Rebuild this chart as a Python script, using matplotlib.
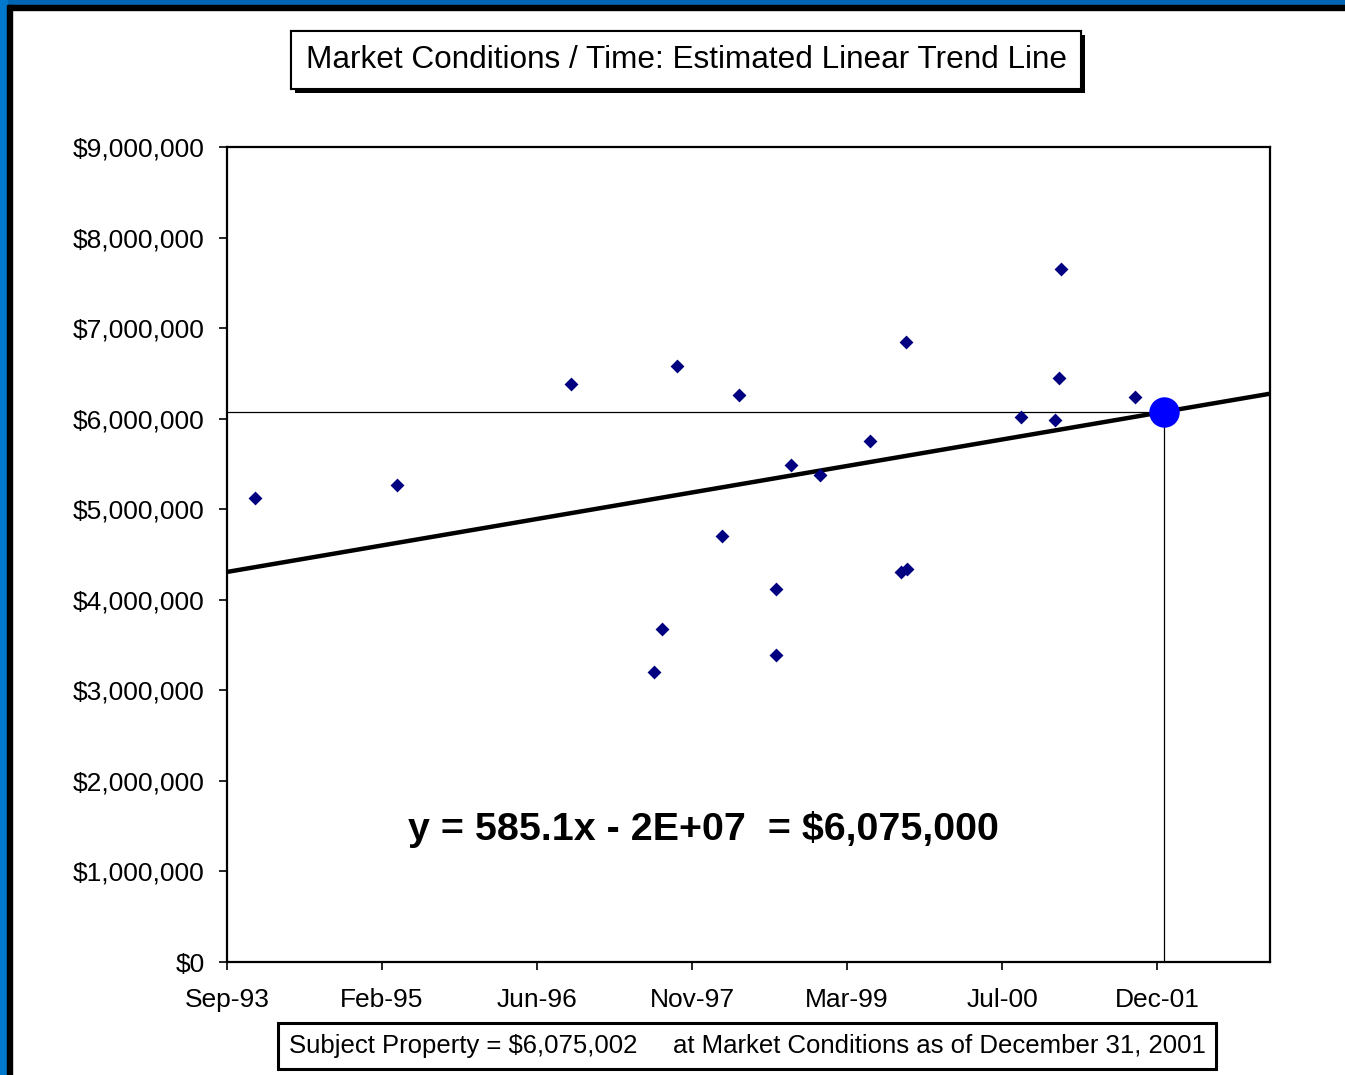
import matplotlib
matplotlib.use("Agg")
import matplotlib.pyplot as plt
import matplotlib.dates as mdates
import matplotlib.patheffects as pe
from matplotlib.patches import Rectangle
import numpy as np
import pandas as pd

plt.rcParams['font.family'] = ['Liberation Sans', 'DejaVu Sans']

# sale dates and prices
sale_dates = ["1993-12-22", "1995-03-26", "1996-10-07", "1997-09-14", "1997-07-02",
              "1997-07-28", "1998-02-06", "1998-04-02", "1998-07-31", "1998-07-31",
              "1998-09-17", "1998-12-20", "1999-05-30", "1999-09-07", "1999-09-26",
              "1999-09-23", "2000-09-28", "2001-01-16", "2001-01-29", "2001-02-04",
              "2001-10-01"]
sale_prices = [5124000, 5267000, 6383000, 6581000, 3202000,
               3677000, 4704000, 6261000, 4119000, 3390000,
               5488000, 5378000, 5753000, 4307000, 4340000,
               6847000, 6018000, 5985000, 6449000, 7653000,
               6239000]

subject_date = "2001-12-31"
subject_value = 6075002
trend_slope = 585.1  # $ per day

axis_start = "1993-09-23"
axis_end = "2002-12-09"
tick_step_days = 500
y_ticks = [0, 1e6, 2e6, 3e6, 4e6, 5e6, 6e6, 7e6, 8e6, 9e6]

x = mdates.date2num(pd.to_datetime(sale_dates))
xs = mdates.date2num(pd.Timestamp(subject_date))
x0 = mdates.date2num(pd.Timestamp(axis_start))
x1 = mdates.date2num(pd.Timestamp(axis_end))

fig = plt.figure(figsize=(13.45, 10.75), dpi=100)
ax = fig.add_axes([227 / 1345, 1 - 962 / 1075, (1270 - 227) / 1345, (962 - 147) / 1075])

# blue frame of the slide
W, H = 1345, 1075
fig.patches.append(Rectangle((0, 1 - 5 / H), 1, 5 / H, transform=fig.transFigure,
                             color="#0066b3", zorder=0))
fig.patches.append(Rectangle((0, 1 - 10 / H), 1, 5 / H, transform=fig.transFigure,
                             color="black", zorder=0))
fig.patches.append(Rectangle((0, 0), 7 / W, 1, transform=fig.transFigure,
                             color="#0078cc", zorder=0))
fig.patches.append(Rectangle((7 / W, 0), 5 / W, 1 - 5 / H, transform=fig.transFigure,
                             color="black", zorder=0))

# trend line
tx = np.array([x0, x1])
ty = subject_value + trend_slope * (tx - xs)
ax.plot(tx, ty, color="black", lw=3.2, zorder=3, solid_capstyle="butt")

# subject reference lines
ax.plot([x0, xs], [subject_value, subject_value], color="black", lw=0.9, zorder=2)
ax.plot([xs, xs], [0, subject_value], color="black", lw=0.9, zorder=2)

ax.scatter(x, sale_prices, marker="D", s=50, color="#000080", zorder=4, linewidths=0)
ax.scatter([xs], [subject_value], s=480, color="#0000ff", zorder=5, linewidths=0)

ax.set_xlim(x0, x1)
ax.set_ylim(0, 9e6)
ax.set_yticks(y_ticks)
ax.yaxis.set_major_formatter(plt.FuncFormatter(lambda v, p: "${:,.0f}".format(v)))
ax.set_xticks(x0 + np.arange(0, 3001, tick_step_days))
ax.xaxis.set_major_formatter(mdates.DateFormatter("%b-%y"))

for s in ax.spines.values():
    s.set_linewidth(1.6)
ax.tick_params(axis="both", direction="out", length=6, width=1.2, labelsize=19)
ax.tick_params(axis="y", pad=10)
ax.tick_params(axis="x", pad=13)

ax.text(0.457, 0.163, "y = 585.1x - 2E+07  = $6,075,000", transform=ax.transAxes,
        ha="center", va="center", fontsize=28.4, fontweight="bold")

shadow = [pe.withSimplePatchShadow(offset=(3, -3), shadow_rgbFace="black", alpha=1.0),
          pe.Normal()]

t1 = fig.text(686 / W, 1 - 60 / H, "Market Conditions / Time: Estimated Linear Trend Line",
              ha="center", va="center", fontsize=22.7,
              bbox=dict(boxstyle="square,pad=0.45", fc="white", ec="black", lw=1.5))
t1.get_bbox_patch().set_path_effects(shadow)

t2 = fig.text(747 / W, 1 - 1046 / H,
              "Subject Property = $6,075,002     at Market Conditions as of December 31, 2001",
              ha="center", va="center", fontsize=18.5,
              bbox=dict(boxstyle="square,pad=0.42", fc="white", ec="black", lw=2.2))

fig.savefig("out.png", dpi=100)
